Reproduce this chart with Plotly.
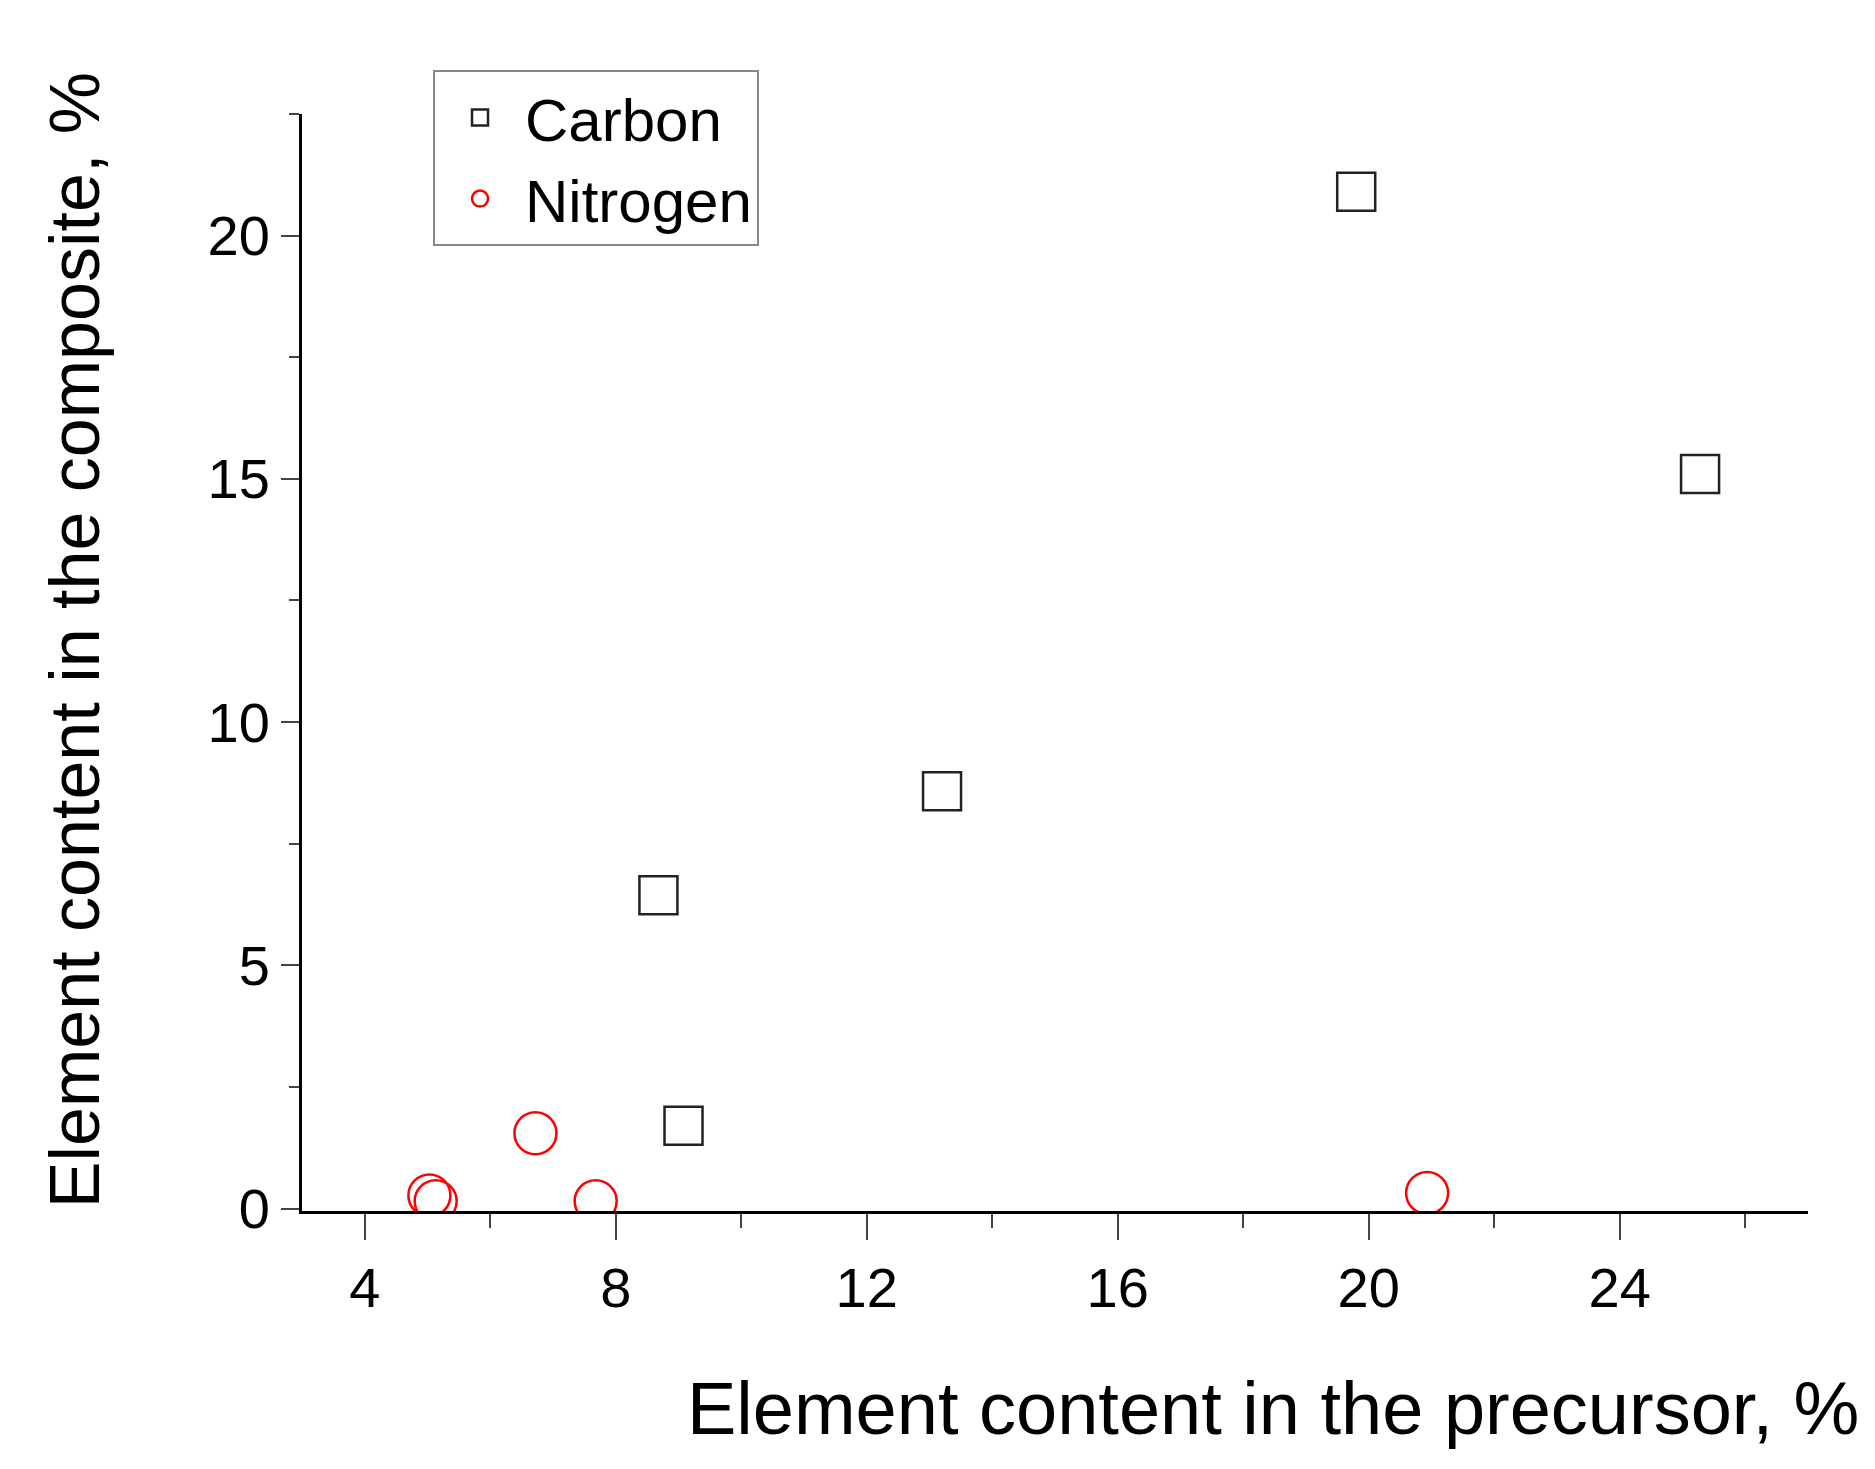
import plotly.graph_objects as go

carbon_x = [8.68, 9.08, 13.2, 19.8, 25.28]
carbon_y = [6.44, 1.70, 8.58, 20.9, 15.1]
nitrogen_x = [5.03, 5.13, 6.72, 7.68, 20.93]
nitrogen_y = [0.27, 0.15, 1.55, 0.15, 0.32]

fig = go.Figure()
fig.add_trace(go.Scatter(x=carbon_x, y=carbon_y, mode="markers", name="Carbon",
    marker=dict(symbol="square-open", size=38, color="#222", line=dict(width=2.5))))
fig.add_trace(go.Scatter(x=nitrogen_x, y=nitrogen_y, mode="markers", name="Nitrogen",
    marker=dict(symbol="circle-open", size=42, color="red", line=dict(width=2.5))))

font = dict(family="Liberation Sans, Arial", color="black")
fig.update_layout(
    width=1875, height=1469, plot_bgcolor="white", paper_bgcolor="white",
    margin=dict(l=294, r=75, t=106, b=266),
    font=dict(**font, size=56),
    showlegend=True,
    legend=dict(x=0.087, y=1.04, xanchor="left", yanchor="top", bordercolor="#888",
                borderwidth=2, font=dict(size=60), itemsizing="trace",
                tracegroupgap=0, itemwidth=80),
    xaxis=dict(range=[3, 27], tickvals=[4, 8, 12, 16, 20, 24], ticks="outside",
               ticklen=26, tickwidth=2, showgrid=False, zeroline=False,
               showline=True, linecolor="black", linewidth=3,
               minor=dict(dtick=2, tick0=0, ticks="outside", ticklen=14, tickwidth=2)),
    yaxis=dict(range=[-0.05, 22.5], tickvals=[0, 5, 10, 15, 20], ticks="outside",
               ticklen=18, tickwidth=2, showgrid=False, zeroline=False,
               showline=True, linecolor="black", linewidth=3,
               minor=dict(dtick=2.5, tick0=0, ticks="outside", ticklen=10, tickwidth=2)),
    annotations=[
        dict(text="Element content in the precursor, %", xref="paper", yref="paper",
             x=1.035, y=-0.14, xanchor="right", yanchor="top", showarrow=False,
             font=dict(size=74)),
        dict(text="Element content in the composite, %", xref="paper", yref="paper",
             x=-0.151, y=0.52, textangle=-90, xanchor="center", yanchor="middle",
             showarrow=False, font=dict(size=70)),
    ],
)
fig.write_html("out.html")
